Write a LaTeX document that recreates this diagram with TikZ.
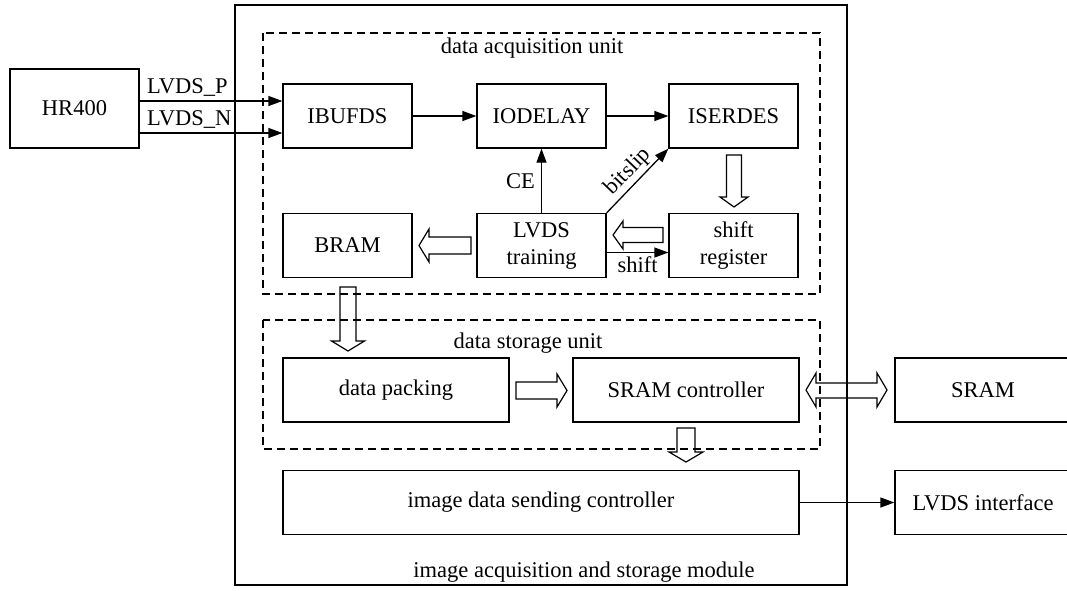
\documentclass[tikz,border=0pt]{standalone}
\usepackage{fontspec}
\setmainfont{Liberation Serif}
\usetikzlibrary{arrows.meta}
\newcommand{\hollowx}[5]{% x-from, x-to, y, shaft half, head half
  \pgfmathsetmacro{\hbx}{#2-sign(#2-#1)*10}
  \draw[hollow] (#1,#3-#4) -- (\hbx,#3-#4) -- (\hbx,#3-#5) -- (#2,#3) -- (\hbx,#3+#5) -- (\hbx,#3+#4) -- (#1,#3+#4) -- cycle;}
\newcommand{\hollowy}[5]{% y-from, y-to, x, shaft half, head half
  \pgfmathsetmacro{\hby}{#2-sign(#2-#1)*10}
  \draw[hollow] (#3-#4,#1) -- (#3-#4,\hby) -- (#3-#5,\hby) -- (#3,#2) -- (#3+#5,\hby) -- (#3+#4,\hby) -- (#3+#4,#1) -- cycle;}
\begin{document}
\begin{tikzpicture}[x=1pt,y=-1pt,
  font=\fontsize{22.5}{27}\selectfont,
  box/.style={draw,line width=1.3pt,minimum width=129pt,minimum height=64pt,inner sep=0pt,align=center},
  dbox/.style={draw,line width=1.3pt,dash pattern=on 8pt off 5pt},
  arr/.style={line width=1.3pt,-{Triangle[length=14pt,width=10pt]}},
  hollow/.style={draw,line width=1.2pt,line join=miter},
  lbl/.style={inner sep=0pt}
  ]
\useasboundingbox (0,0) rectangle (1067,590);
% containers
\draw[line width=1.3pt] (235,5) rectangle (847,585);
\draw[dbox] (263,33) rectangle (820,294);
\draw[dbox] (263,320) rectangle (820,449);
\node[lbl] (acqlbl) at (532,48) {data acquisition unit};
\node[lbl] (stlbl) at (528,343) {data storage unit};
\node[lbl] (modlbl) at (584,572) {image acquisition and storage module};
% boxes
\node[box,minimum height=79pt] (hr) at (74.5,108.5) {HR400};
\node[box] (ibufds) at (347.5,116) {IBUFDS};
\node[box] (iodelay) at (541.5,116) {IODELAY};
\node[box] (iserdes) at (733.5,116) {ISERDES};
\node[box] (bram) at (347.5,245.5) {BRAM};
\node[box] (train) at (541.5,245.5) {LVDS\\training};
\node[box] (shreg) at (733.5,245.5) {shift\\register};
\node[box,minimum width=226pt] (pack) at (396,390) {data packing};
\node[box,minimum width=226pt] (sramc) at (686,390) {SRAM controller};
\node[box,minimum width=176pt] (sram) at (983,390) {SRAM};
\node[box,minimum width=516pt] (send) at (541,502.5) {image data sending controller};
\node[box,minimum width=176pt] (lvdsif) at (983,502.5) {LVDS interface};
% LVDS lines
\draw[arr] (hr.east |- {(0,101)}) -- (ibufds.west |- {(0,101)});
\draw[arr] (hr.east |- {(0,133)}) -- (ibufds.west |- {(0,133)});
\node[lbl,anchor=base west] (lp) at (147,93) {LVDS\_P};
\node[lbl,anchor=base west] (ln) at (147,125) {LVDS\_N};
% thin arrows
\draw[arr] (ibufds) -- (iodelay);
\draw[arr] (iodelay) -- (iserdes);
\draw[arr] (train.north) -- node[left,lbl,xshift=-6pt] {CE} (iodelay.south);
\draw[arr] (train.north east) -- node[above,sloped,inner sep=2pt] {bitslip} (iserdes.south west);
\draw[arr] ([yshift=-7pt]train.east) -- node[below,inner sep=3pt] {shift} ([yshift=-7pt]shreg.west);
\draw[arr] (send) -- (lvdsif);
% hollow arrows
\hollowy{155}{207}{734}{7.5}{14}
\hollowx{663}{613}{235}{7.5}{14}
\hollowx{471}{419}{245.5}{8.5}{16.5}
\hollowy{287}{351}{348}{8}{16.5}
\hollowx{516}{567}{390.5}{8.5}{16.5}
\hollowy{428}{462}{686}{9}{17}
\draw[hollow] (816,383) -- (877,383) -- (877,373) -- (887,390) -- (877,407) -- (877,398)
  -- (816,398) -- (816,407) -- (806,390) -- (816,373) -- cycle;
\end{tikzpicture}
\end{document}
